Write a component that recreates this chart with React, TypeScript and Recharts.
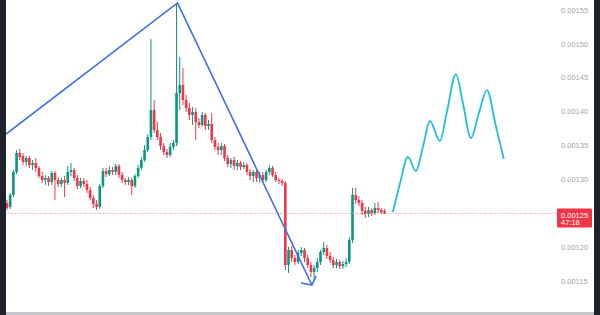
import React from 'react';
import { ComposedChart, Bar, Line, XAxis, YAxis, ReferenceLine } from 'recharts';

const UP = '#089981';
const DOWN = '#f23645';

// OHLC per bar
const opens = [
  0.0012654, 0.0012595, 0.0012772, 0.0013111, 0.0013391, 0.0013347, 0.0013258, 0.0013317, 0.0013214, 0.0013244,
  0.001317, 0.0013052, 0.0012993, 0.0013022, 0.0012963, 0.0013096, 0.0012993, 0.0012934, 0.0012993, 0.0012949,
  0.0013111, 0.001314, 0.0013022, 0.0012904, 0.0012978, 0.0012934, 0.0012845, 0.0012727, 0.0012639, 0.0012595,
  0.0012904, 0.0013126, 0.0013081, 0.001314, 0.0013111, 0.0013199, 0.0013067, 0.0012993, 0.0012963, 0.0012993,
  0.0012904, 0.0013052, 0.001317, 0.0013288, 0.0013435, 0.0013627, 0.0014025, 0.001373, 0.0013627, 0.0013494,
  0.0013406, 0.0013362, 0.001348, 0.0013539, 0.0014276, 0.0014394, 0.0014173, 0.0014055, 0.0013952, 0.0013996,
  0.0013848, 0.0013804, 0.0013952, 0.0013789, 0.0013819, 0.0013583, 0.001348, 0.0013435, 0.0013494, 0.0013317,
  0.0013229, 0.0013288, 0.0013199, 0.0013244, 0.0013185, 0.0013214, 0.0013111, 0.0013052, 0.0013111, 0.0013022,
  0.0013067, 0.0012993, 0.0013111, 0.001317, 0.0013067, 0.0012993, 0.0012978, 0.0012949, 0.0011739, 0.001196,
  0.0011842, 0.0011783, 0.0011916, 0.001196, 0.0011842, 0.0011739, 0.0011636, 0.0011695, 0.0011783, 0.0011931,
  0.001199, 0.0011872, 0.0011813, 0.0011739, 0.0011783, 0.0011724, 0.0011754, 0.0011783, 0.0012108, 0.0012772,
  0.0012698, 0.0012654, 0.0012536, 0.0012491, 0.001255, 0.0012506, 0.001258, 0.001255, 0.0012536,
];
const highs = [
  0.0012698, 0.0012801, 0.001314, 0.0013435, 0.001345, 0.0013391, 0.0013347, 0.0013347, 0.0013288, 0.0013317,
  0.0013199, 0.0013111, 0.0013067, 0.0013052, 0.0013126, 0.0013126, 0.0013037, 0.0013022, 0.0013052, 0.0013199,
  0.0013244, 0.001317, 0.0013067, 0.0013022, 0.0013022, 0.0012993, 0.001289, 0.0012772, 0.0012698, 0.0012934,
  0.001317, 0.001317, 0.0013199, 0.0013185, 0.0013229, 0.0013229, 0.0013111, 0.0013022, 0.0013037, 0.0013022,
  0.0013081, 0.0013214, 0.0013332, 0.0013509, 0.0013671, 0.0015073, 0.0014173, 0.0013848, 0.0013686, 0.0013539,
  0.001345, 0.0013539, 0.0013583, 0.0015604, 0.0014807, 0.0014645, 0.0014247, 0.0014129, 0.001407, 0.0014055,
  0.0013907, 0.0013996, 0.0013981, 0.0013878, 0.0013981, 0.0013627, 0.0013539, 0.0013539, 0.0013524, 0.0013362,
  0.0013317, 0.0013332, 0.0013288, 0.0013273, 0.0013258, 0.0013244, 0.0013155, 0.001314, 0.001314, 0.0013111,
  0.0013111, 0.001314, 0.0013214, 0.0013199, 0.0013111, 0.0013022, 0.0013008, 0.0012978, 0.0012005, 0.0012019,
  0.0011887, 0.001196, 0.0012005, 0.001199, 0.0011887, 0.0011783, 0.0011739, 0.0011842, 0.001196, 0.0012078,
  0.0012034, 0.0011931, 0.0011857, 0.0011828, 0.0011813, 0.0011798, 0.0011842, 0.0012152, 0.0012875, 0.0012875,
  0.0012757, 0.0012698, 0.0012595, 0.0012595, 0.001258, 0.0012654, 0.0012668, 0.001258, 0.0012565,
];
const lows = [
  0.001255, 0.0012565, 0.0012742, 0.0013081, 0.0013288, 0.0013214, 0.0013199, 0.001317, 0.001314, 0.0013111,
  0.0013022, 0.0012949, 0.0012919, 0.0012904, 0.0012919, 0.0012698, 0.001289, 0.001289, 0.0012742, 0.0012919,
  0.0013052, 0.0012978, 0.001286, 0.0012875, 0.001289, 0.0012801, 0.0012698, 0.001258, 0.001255, 0.0012565,
  0.0012875, 0.0013037, 0.0013052, 0.0013067, 0.0013067, 0.0013022, 0.0012949, 0.0012919, 0.0012919, 0.0012772,
  0.0012875, 0.0013022, 0.001314, 0.0013258, 0.0013406, 0.0013583, 0.0013686, 0.0013583, 0.0013435, 0.0013362,
  0.0013317, 0.0013332, 0.0013435, 0.0013494, 0.0014025, 0.0014099, 0.0013996, 0.0013878, 0.0013804, 0.0013583,
  0.001376, 0.0013775, 0.001373, 0.001373, 0.0013539, 0.0013435, 0.0013362, 0.0013362, 0.0013273, 0.0013185,
  0.001317, 0.001314, 0.001314, 0.001314, 0.0013155, 0.0013067, 0.0012993, 0.0012963, 0.0012963, 0.0012949,
  0.0012949, 0.0012963, 0.0013067, 0.0013037, 0.0012963, 0.0012934, 0.0012904, 0.0011665, 0.0011621, 0.0011783,
  0.0011739, 0.0011754, 0.0011872, 0.0011783, 0.0011695, 0.0011562, 0.0011518, 0.0011636, 0.0011739, 0.0011887,
  0.0011828, 0.0011769, 0.0011695, 0.0011695, 0.001168, 0.001168, 0.001171, 0.0011754, 0.0012064, 0.0012639,
  0.0012609, 0.0012477, 0.0012432, 0.0012447, 0.0012462, 0.0012477, 0.0012506, 0.0012491, 0.0012491,
];
const closes = [
  0.001258, 0.0012772, 0.0013111, 0.0013391, 0.0013332, 0.0013258, 0.0013317, 0.0013214, 0.0013244, 0.001317,
  0.0013052, 0.0012993, 0.0013022, 0.0012963, 0.0013096, 0.0012993, 0.0012934, 0.0012993, 0.0012949, 0.0013111,
  0.001314, 0.0013022, 0.0012904, 0.0012978, 0.0012934, 0.0012845, 0.0012727, 0.0012639, 0.0012595, 0.0012904,
  0.0013126, 0.0013081, 0.001314, 0.0013111, 0.0013199, 0.0013067, 0.0012993, 0.0012963, 0.0012993, 0.0012904,
  0.0013052, 0.001317, 0.0013288, 0.0013435, 0.0013627, 0.0014025, 0.001373, 0.0013627, 0.0013494, 0.0013406,
  0.0013362, 0.001348, 0.0013539, 0.0014276, 0.0014394, 0.0014173, 0.0014055, 0.0013952, 0.0013996, 0.0013848,
  0.0013804, 0.0013952, 0.0013789, 0.0013819, 0.0013583, 0.001348, 0.0013435, 0.0013494, 0.0013317, 0.0013229,
  0.0013288, 0.0013199, 0.0013244, 0.0013185, 0.0013214, 0.0013111, 0.0013052, 0.0013111, 0.0013022, 0.0013067,
  0.0012993, 0.0013111, 0.001317, 0.0013067, 0.0012993, 0.0012978, 0.0012949, 0.0011739, 0.001196, 0.0011842,
  0.0011783, 0.0011916, 0.001196, 0.0011842, 0.0011739, 0.0011636, 0.0011695, 0.0011783, 0.0011931, 0.001199,
  0.0011872, 0.0011813, 0.0011739, 0.0011783, 0.0011724, 0.0011754, 0.0011783, 0.0012108, 0.0012772, 0.0012698,
  0.0012654, 0.0012536, 0.0012491, 0.001255, 0.0012506, 0.001258, 0.001255, 0.0012521, 0.00125,
];

const priceTicks = [0.00115, 0.0012, 0.0013, 0.00135, 0.0014, 0.00145, 0.0015, 0.00155];
const lastPrice = 0.00125;
const countdown = '47:18';

// drawings (bar index, price)
const trendLine = [
  { i: -0.31, p: 0.0013671 },
  { i: 53.3, p: 0.0015604 },
  { i: 95.3, p: 0.0011444 },
];
const arrowHead = [
  { i: 91.9, p: 0.0011474 },
  { i: 95.3, p: 0.0011444 },
  { i: 96.6, p: 0.0011577 },
];
const projection = [
  { i: 120.6, p: 0.0012521 },
  { i: 122.8, p: 0.0012934 },
  { i: 125.3, p: 0.0013332 },
  { i: 127.8, p: 0.0013126 },
  { i: 130.0, p: 0.001348 },
  { i: 132.2, p: 0.0013863 },
  { i: 135.3, p: 0.0013568 },
  { i: 137.5, p: 0.0013996 },
  { i: 140.3, p: 0.0014556 },
  { i: 142.5, p: 0.0014129 },
  { i: 145.0, p: 0.0013612 },
  { i: 147.5, p: 0.0013981 },
  { i: 150.0, p: 0.001432 },
  { i: 152.8, p: 0.0013789 },
  { i: 155.3, p: 0.0013303 },
];

const candles = opens.map((o, i) => ({
  i,
  open: o,
  high: highs[i],
  low: lows[i],
  close: closes[i],
}));

const Candle = (props: any) => {
  const { x, y, width, height, payload } = props;
  if (!payload || height == null) return null;
  const { open, close, high, low } = payload;
  const color = close >= open ? UP : DOWN;
  const cx = x + width / 2;
  const k = high - low > 0 ? height / (high - low) : 0;
  const yO = y + (high - open) * k;
  const yC = y + (high - close) * k;
  const top = Math.min(yO, yC);
  const bh = Math.max(Math.abs(yO - yC), 1);
  return (
    <g>
      <line x1={cx} x2={cx} y1={y} y2={y + height} stroke={color} strokeWidth={1} />
      <rect x={cx - 1.3} y={top} width={2.6} height={bh} fill={color} />
    </g>
  );
};

const PriceBadge = (props: any) => {
  const { viewBox } = props;
  if (!viewBox) return null;
  const bx = viewBox.x + viewBox.width + 1;
  const by = viewBox.y - 5;
  return (
    <g>
      <rect x={bx} y={by} width={35} height={19} fill={DOWN} rx={1} />
      <text x={bx + 4} y={by + 7.5} fill="#fff" fontSize={7.5} dominantBaseline="middle">
        {lastPrice.toFixed(5)}
      </text>
      <text x={bx + 4} y={by + 15} fill="#fff" fontSize={7.5} dominantBaseline="middle">
        {countdown}
      </text>
    </g>
  );
};

export default function App() {
  return (
    <div
      style={{
        position: 'fixed',
        left: 0,
        top: 0,
        width: 600,
        height: 315,
        background: '#1e222d',
        fontFamily: 'Arial, "Liberation Sans", sans-serif',
      }}
    >
      <div style={{ position: 'absolute', left: 6, top: 0, width: 588, height: 312, background: '#ffffff' }}>
        <ComposedChart width={588} height={312} data={candles} margin={{ top: 0, right: 0, bottom: 0, left: 0 }}>
          <XAxis dataKey="i" type="number" domain={[-0.31, 171.6]} allowDataOverflow hide />
          <YAxis
            orientation="right"
            type="number"
            domain={[0.0011046, 0.0015648]}
            allowDataOverflow
            ticks={priceTicks}
            tickFormatter={(v: number) => v.toFixed(5)}
            width={38}
            tickSize={0}
            tickMargin={5}
            axisLine={false}
            tickLine={false}
            tick={{ fontSize: 7.5, fill: '#a3a6af' }}
          />
          <ReferenceLine
            y={lastPrice}
            stroke="#f58f98"
            strokeWidth={1}
            strokeDasharray="1 1.5"
            label={<PriceBadge />}
          />
          <Bar
            dataKey={(d: any) => [d.low, d.high]}
            barSize={3}
            shape={<Candle />}
            isAnimationActive={false}
          />
          <Line
            data={trendLine}
            dataKey="p"
            type="linear"
            stroke="#3a6ff0"
            strokeWidth={1.6}
            dot={false}
            isAnimationActive={false}
          />
          <Line
            data={arrowHead}
            dataKey="p"
            type="linear"
            stroke="#3a6ff0"
            strokeWidth={1.6}
            dot={false}
            isAnimationActive={false}
          />
          <Line
            data={projection}
            dataKey="p"
            type="monotone"
            stroke="#1fbfe0"
            strokeWidth={1.8}
            dot={false}
            isAnimationActive={false}
          />
        </ComposedChart>
      </div>
      <div style={{ position: 'absolute', left: 6, top: 312, width: 588, height: 3, background: '#c4c6cc' }} />
    </div>
  );
}
